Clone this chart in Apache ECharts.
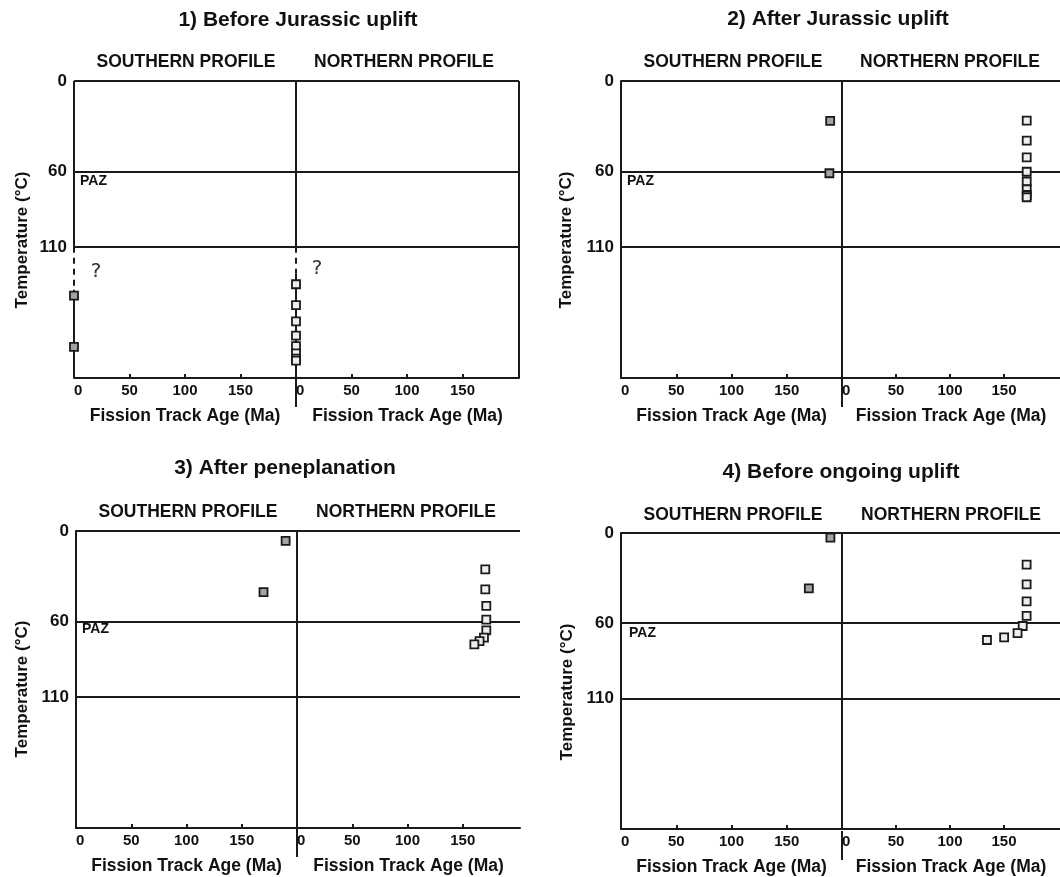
<!DOCTYPE html>
<html><head><meta charset="utf-8">
<script src="https://cdn.jsdelivr.net/npm/echarts@6/dist/echarts.min.js"></script>
<style>html,body{margin:0;padding:0;background:#fff}#c{width:1060px;height:877px}</style>
</head><body><div id="c"></div>
<script>
// ---------- data ----------
const panelTitles = ['1) Before Jurassic uplift', '2) After Jurassic uplift', '3) After peneplanation', '4) Before ongoing uplift'];
const profileNames = ['SOUTHERN PROFILE', 'NORTHERN PROFILE'];
const xAxisName = 'Fission Track Age (Ma)';
const yAxisName = 'Temperature (\u00B0C)';
const zoneLabel = 'PAZ';
const ageTicks = [0, 50, 100, 150];
const tempTicks = [0, 60, 110];
const pazBounds = [60, 110];
const ageMax = 200;
const tempMax = 197;

const p1SouthAge = [0, 0];
const p1SouthTemp = [142.4, 176.4];
const p1NorthAge = [0, 0, 0, 0, 0, 0, 0, 0];
const p1NorthTemp = [134.8, 148.6, 159.4, 168.9, 175.8, 180.6, 184.2, 185.5];
const p1SouthUnknown = [110, 138.5];   // dashed (uncertain) part of the path
const p1NorthUnknown = [110, 127.5];

const p2SouthAge = [189.3, 188.6];
const p2SouthTemp = [26.5, 61.2];
const p2NorthAge = [171, 171, 171, 171, 171, 171, 171, 171];
const p2NorthTemp = [26.3, 39.6, 50.6, 60.2, 66.8, 71.8, 75.6, 77.1];

const p3SouthAge = [189.7, 169.7];
const p3SouthTemp = [6.6, 40.5];
const p3NorthAge = [170.4, 170.4, 171.3, 171.3, 171.3, 169.2, 165.2, 160.5];
const p3NorthTemp = [25.4, 38.7, 49.7, 58.8, 65.9, 70.7, 73.0, 75.2];

const p4SouthAge = [189.5, 170];
const p4SouthTemp = [3.1, 36.9];
const p4NorthAge = [170.9, 170.9, 170.9, 170.9, 167.3, 162.5, 150.1, 134.2];
const p4NorthTemp = [21.0, 34.2, 45.5, 55.1, 61.9, 66.7, 69.4, 71.2];

// ---------- layout / style ----------
const INK = '#1a1a1a';
const FONT = "'Liberation Sans', Arial, sans-serif";
const SOUTH_FILL = '#a3a3a3';
const NORTH_FILL = '#eeeeee';

const panels = [
  { title: panelTitles[0], tx: 298, ty: 20, subY: 62, subX: [186, 404], left: 74, div: 296, right: 519, top: 81, bottom: 378,
    tempX: 22, tempY: 240, paz: [80, 181], qs: [[96, 272], [317, 269]],
    south: [p1SouthAge, p1SouthTemp], north: [p1NorthAge, p1NorthTemp], gaps: [p1SouthUnknown, p1NorthUnknown] },
  { title: panelTitles[1], tx: 838, ty: 19, subY: 62, subX: [733, 950], left: 621, div: 842, right: 1065, top: 81, bottom: 378,
    tempX: 566, tempY: 240, paz: [627, 181],
    south: [p2SouthAge, p2SouthTemp], north: [p2NorthAge, p2NorthTemp] },
  { title: panelTitles[2], tx: 285, ty: 468, subY: 512, subX: [188, 406], left: 76, div: 297, right: 520, top: 531, bottom: 828,
    tempX: 22, tempY: 689, paz: [82, 629],
    south: [p3SouthAge, p3SouthTemp], north: [p3NorthAge, p3NorthTemp] },
  { title: panelTitles[3], tx: 841, ty: 472, subY: 515, subX: [733, 951], left: 621, div: 842, right: 1065, top: 533, bottom: 831,
    tempX: 567, tempY: 692, paz: [629, 633],
    south: [p4SouthAge, p4SouthTemp], north: [p4NorthAge, p4NorthTemp] }
];

const zip = (a, b) => a.map((v, i) => [v, b[i]]);
const grids = [], xAxes = [], yAxes = [], series = [], graphics = [];
const solid = { color: INK, width: 2, type: 'solid' };
const dashed = { color: INK, width: 2, type: [6, 5] };

function txt(x, y, text, size, opts) {
  return Object.assign({ type: 'text', x: x, y: y, silent: true,
    style: Object.assign({ text: text, fontSize: size, fontWeight: 'bold', fontFamily: FONT, fill: '#111',
      align: 'center', verticalAlign: 'middle' }, (opts && opts.style) || {}) }, (opts && opts.el) || {});
}

panels.forEach((p, pi) => {
  const h = p.bottom - p.top;
  const sW = p.div - p.left, nW = p.right - p.div;
  const nMax = ageMax * nW / sW;
  const sides = [
    { left: p.left, width: sW, max: ageMax, pts: p.south, fill: SOUTH_FILL, south: true },
    { left: p.div, width: nW, max: nMax, pts: p.north, fill: NORTH_FILL, south: false }
  ];
  sides.forEach((s, si) => {
    const gi = grids.length;
    grids.push({ left: s.left, top: p.top, width: s.width, height: h, containLabel: false });
    xAxes.push({
      gridIndex: gi, type: 'value', min: 0, max: s.max, position: 'bottom',
      axisLine: { show: true, onZero: false, lineStyle: solid },
      axisTick: { show: true, inside: true, length: 4, customValues: ageTicks, lineStyle: { color: INK, width: 2 } },
      axisLabel: { customValues: ageTicks, fontSize: 15, fontWeight: 'bold', fontFamily: FONT, color: '#111', margin: 5, alignMinLabel: 'left' },
      splitLine: { show: false },
      name: xAxisName, nameLocation: 'middle', nameGap: 29,
      nameTextStyle: { fontSize: 17.5, fontWeight: 'bold', fontFamily: FONT, color: '#111' }
    });
    const hasGaps = !!p.gaps;
    yAxes.push({
      gridIndex: gi, type: 'value', inverse: true, min: 0, max: tempMax,
      axisLine: { show: !hasGaps, onZero: false, lineStyle: solid },
      axisTick: { show: false },
      axisLabel: { show: s.south, customValues: tempTicks, fontSize: 17, fontWeight: 'bold', fontFamily: FONT, color: '#111', margin: 7 },
      splitLine: { show: false }
    });
    const ml = [
      { yAxis: 0 },
      { yAxis: pazBounds[0] },
      { yAxis: pazBounds[1] }
    ];
    if (!s.south) ml.push({ xAxis: s.max });
    if (hasGaps) {
      const g = p.gaps[si];
      ml.push([{ coord: [0, 0], lineStyle: solid }, { coord: [0, g[0]] }]);
      ml.push([{ coord: [0, g[0]], lineStyle: dashed }, { coord: [0, g[1]] }]);
      ml.push([{ coord: [0, g[1]], lineStyle: solid }, { coord: [0, tempMax] }]);
    }
    series.push({
      type: 'scatter', xAxisIndex: gi, yAxisIndex: gi, z: 3,
      data: zip(s.pts[0], s.pts[1]),
      symbol: 'rect', symbolSize: 8,
      itemStyle: { color: s.fill, borderColor: INK, borderWidth: 1.8, opacity: 1 },
      silent: true,
      markLine: { silent: true, symbol: ['none', 'none'], z: 1, animation: false,
        label: { show: false }, lineStyle: solid, emphasis: { disabled: true }, data: ml }
    });
  });
  // titles and annotations
  graphics.push(txt(p.tx, p.ty, p.title, 21));
  graphics.push(txt(p.subX[0], p.subY, profileNames[0], 17.5));
  graphics.push(txt(p.subX[1], p.subY, profileNames[1], 17.5));
  graphics.push(txt(p.tempX, p.tempY, yAxisName, 17, { el: { rotation: Math.PI / 2 } }));
  graphics.push(txt(p.paz[0], p.paz[1], zoneLabel, 14, { style: { align: 'left' } }));
  if (p.qs) p.qs.forEach(q => graphics.push(txt(q[0], q[1], '?', 20,
    { style: { fontWeight: 'normal', fontFamily: "'DejaVu Sans', sans-serif", fill: '#333' } })));
  // divider continues a little below the age axes
  graphics.push({ type: 'line', silent: true, shape: { x1: p.div, y1: p.bottom, x2: p.div, y2: p.bottom + 29 },
    style: { stroke: INK, lineWidth: 2 } });
});

const chart = echarts.init(document.getElementById('c'), null, { renderer: 'canvas' });
chart.setOption({
  animation: false,
  backgroundColor: '#fff',
  grid: grids, xAxis: xAxes, yAxis: yAxes, series: series,
  graphic: { elements: graphics }
});
</script>
</body></html>
